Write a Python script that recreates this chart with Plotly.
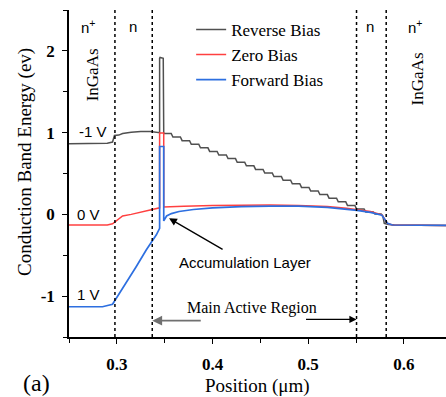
import plotly.graph_objects as go

# ---------------- data ----------------
# Reverse bias (-1 V): contact region + barrier spike
pos_rev_head = [0.25, 0.29, 0.2955, 0.2975, 0.302, 0.306, 0.315, 0.325, 0.335,
                0.3447, 0.3447, 0.3452, 0.3485, 0.349]
e_rev_head = [0.865, 0.87, 0.885, 0.965, 0.97, 0.99, 1.005, 1.015, 1.015,
              1.0, 1.91, 1.92, 1.91, 0.99]
# staircase in the active region: start of each flat step and its level
rev_step_pos = [0.3490, 0.3586, 0.3682, 0.3778, 0.3874, 0.3970, 0.4066, 0.4162,
                0.4258, 0.4354, 0.4450, 0.4546, 0.4642, 0.4738, 0.4834, 0.4930,
                0.5026, 0.5122, 0.5218, 0.5314, 0.5410, 0.5506, 0.5602, 0.5698]
rev_step_e = [0.99, 0.946, 0.902, 0.858, 0.814, 0.770, 0.726, 0.682,
              0.638, 0.594, 0.550, 0.506, 0.462, 0.418, 0.374, 0.330,
              0.286, 0.242, 0.198, 0.154, 0.110, 0.066, 0.030, 0.005]
pos_rev_tail = [0.578, 0.5795, 0.584, 0.59, 0.644]
e_rev_tail = [-0.02, -0.11, -0.125, -0.13, -0.135]

# Zero bias (0 V)
pos_zero = [0.25, 0.29, 0.2955, 0.300, 0.306, 0.315, 0.325, 0.337, 0.3447, 0.3447,
            0.349, 0.349, 0.355, 0.37, 0.40, 0.43, 0.46, 0.49, 0.52, 0.54, 0.551,
            0.565, 0.577, 0.583, 0.588, 0.644]
e_zero = [-0.13, -0.13, -0.115, -0.07, -0.02, 0.0, 0.03, 0.06, 0.08, 0.995,
          0.995, 0.09, 0.095, 0.10, 0.11, 0.115, 0.115, 0.11, 0.095, 0.075, 0.06,
          0.035, -0.005, -0.11, -0.13, -0.135]

# Forward bias (1 V)
pos_fwd = [0.25, 0.285, 0.2955, 0.3097, 0.3202, 0.3307, 0.3413, 0.3447, 0.3447,
           0.349, 0.349, 0.352, 0.357, 0.365, 0.38, 0.40, 0.43, 0.46, 0.49, 0.52,
           0.54, 0.551, 0.565, 0.577, 0.583, 0.588, 0.644]
e_fwd = [-1.13, -1.13, -1.10, -0.84, -0.64, -0.435, -0.25, -0.17, 0.83,
         0.83, -0.08, -0.02, 0.01, 0.035, 0.06, 0.08, 0.095, 0.10, 0.10, 0.085,
         0.065, 0.05, 0.025, -0.01, -0.11, -0.13, -0.135]

region_bounds = [0.298, 0.337, 0.5505, 0.5815]
series_names = ["Reverse Bias", "Zero Bias", "Forward Bias"]
x_ticks = [0.3, 0.4, 0.5, 0.6]
y_ticks = [-1, 0, 1, 2]

# build reverse-bias path from the read step data
pos_rev = list(pos_rev_head)
e_rev = list(e_rev_head)
for i, (p, e) in enumerate(zip(rev_step_pos, rev_step_e)):
    nxt = rev_step_pos[i + 1] if i + 1 < len(rev_step_pos) else pos_rev_tail[0]
    pos_rev += [p, nxt - 0.0018]
    e_rev += [e, e]
pos_rev += pos_rev_tail
e_rev += e_rev_tail

SERIF = "Liberation Serif, Times New Roman, serif"
SANS = "Liberation Sans, Arial, sans-serif"

fig = go.Figure()
fig.add_trace(go.Scatter(x=pos_rev, y=e_rev, mode="lines", name=series_names[0],
                         line=dict(color="#505050", width=1.5)))
fig.add_trace(go.Scatter(x=pos_zero, y=e_zero, mode="lines", name=series_names[1],
                         line=dict(color="#ff4040", width=1.5)))
fig.add_trace(go.Scatter(x=pos_fwd, y=e_fwd, mode="lines", name=series_names[2],
                         line=dict(color="#2d6fe0", width=1.7)))

for b in region_bounds:
    fig.add_shape(type="line", xref="x", yref="paper", x0=b, x1=b, y0=0, y1=1,
                  line=dict(color="black", width=1.5, dash="dot"))

XR = [0.25, 0.644]
YR = [-1.5, 2.5]

ann = []
def txt(x, y, t, font, size, angle=0, color="black"):
    ann.append(dict(x=x, y=y, xref="x", yref="y", text=t, showarrow=False,
                    font=dict(family=font, size=size, color=color), textangle=angle,
                    xanchor="center", yanchor="middle"))

txt(0.2697, 2.30, "n<sup>+</sup>", SANS, 15)
txt(0.3167, 2.30, "n", SANS, 15)
txt(0.5644, 2.30, "n", SANS, 15)
txt(0.6114, 2.30, "n<sup>+</sup>", SANS, 15)
txt(0.2749, 1.711, "InGaAs", SERIF, 17, angle=-90)
txt(0.6146, 1.662, "InGaAs", SERIF, 17, angle=-90)
txt(0.2755, 1.015, "-1 V", SANS, 15)
txt(0.2705, -0.005, "0 V", SANS, 15)
txt(0.2705, -0.98, "1 V", SANS, 15)
txt(0.4338, -0.585, "Accumulation Layer", SANS, 15)
txt(0.4410, -1.145, "Main Active Region", SERIF, 16)

# arrows
ann.append(dict(x=0.3546, y=-0.048, xref="x", yref="y", text="", showarrow=True,
                ax=55, ay=32, arrowhead=2, arrowsize=1.2, arrowwidth=1.3,
                arrowcolor="black"))
ann.append(dict(x=0.337, y=-1.30, xref="x", yref="y", text="", showarrow=True,
                ax=50, ay=0, arrowhead=2, arrowsize=1.1, arrowwidth=1.8,
                arrowcolor="#707070"))
ann.append(dict(x=0.5505, y=-1.285, xref="x", yref="y", text="", showarrow=True,
                ax=-52, ay=0, arrowhead=2, arrowsize=1.1, arrowwidth=1.3,
                arrowcolor="black"))

# titles and panel label
ann.append(dict(x=0.5, y=-0.149, xref="paper", yref="paper", text="Position (\u03bcm)",
                showarrow=False, font=dict(family=SERIF, size=19, color="black"),
                xanchor="center", yanchor="middle"))
ann.append(dict(x=-0.117, y=0.535, xref="paper", yref="paper",
                text="Conduction Band Energy (ev)", textangle=-90,
                showarrow=False, font=dict(family=SERIF, size=19, color="black"),
                xanchor="center", yanchor="middle"))
ann.append(dict(x=-0.085, y=-0.141, xref="paper", yref="paper", text="(a)",
                showarrow=False, font=dict(family=SERIF, size=24, color="black"),
                xanchor="center", yanchor="middle"))

tickfont = dict(family=SERIF, size=17, color="black", weight="bold")

fig.update_layout(
    width=446, height=397,
    margin=dict(l=69, r=0, t=10, b=60),
    paper_bgcolor="white", plot_bgcolor="white",
    showlegend=True,
    legend=dict(x=0.324, y=0.994, xanchor="left", yanchor="top",
                font=dict(family=SERIF, size=17, color="black"),
                bgcolor="rgba(0,0,0,0)", borderwidth=0, tracegroupgap=0),
    annotations=ann,
    xaxis=dict(range=XR, tickvals=x_ticks, ticktext=[f"{v:.1f}" for v in x_ticks],
               showgrid=False, zeroline=False, showline=True, linecolor="black",
               linewidth=1.5, ticks="outside", ticklen=5, tickwidth=1.2,
               tickcolor="black", tickfont=tickfont, ticklabelstandoff=6,
               minor=dict(ticks="outside", dtick=0.05, tick0=0.25, ticklen=4,
                          tickwidth=1.2, tickcolor="black", showgrid=False)),
    yaxis=dict(range=YR, tickvals=y_ticks, ticktext=[str(v) for v in y_ticks],
               showgrid=False, zeroline=False, showline=True, linecolor="black",
               linewidth=1.5, ticks="outside", ticklen=5, tickwidth=1.2,
               tickcolor="black", tickfont=tickfont, ticklabelstandoff=4,
               minor=dict(ticks="outside", dtick=0.5, tick0=-1.5, ticklen=4,
                          tickwidth=1.2, tickcolor="black", showgrid=False)),
    xaxis2=dict(range=XR, overlaying="x", anchor="y", side="top",
                tickvals=x_ticks, showticklabels=False, showgrid=False,
                zeroline=False, showline=True, linecolor="black", linewidth=1.5,
                ticks="inside", ticklen=5, tickwidth=1.2, tickcolor="black",
                minor=dict(ticks="inside", dtick=0.05, tick0=0.25, ticklen=4,
                           tickwidth=1.2, tickcolor="black", showgrid=False)),
    yaxis2=dict(range=YR, overlaying="y", anchor="x", side="right",
                tickvals=y_ticks, showticklabels=False, showgrid=False,
                zeroline=False, showline=False,
                ticks="inside", ticklen=5, tickwidth=1.2, tickcolor="black",
                minor=dict(ticks="inside", dtick=0.5, tick0=-1.5, ticklen=4,
                           tickwidth=1.2, tickcolor="black", showgrid=False)),
)

fig.write_html("out.html")
